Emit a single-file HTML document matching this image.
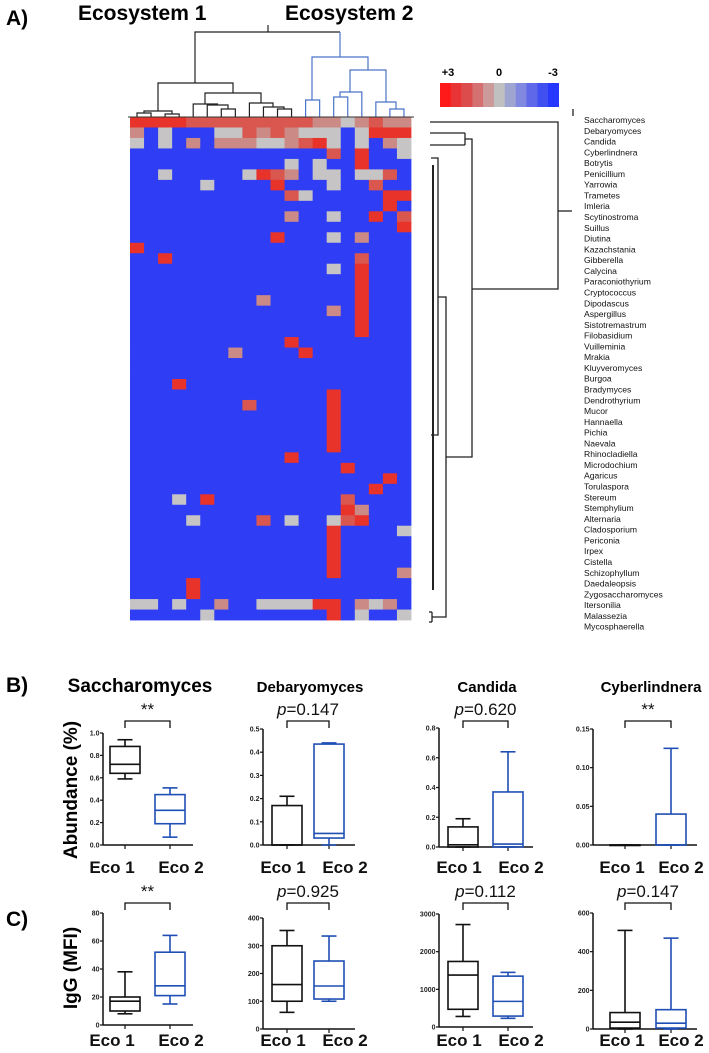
<!DOCTYPE html>
<html><head><meta charset="utf-8">
<style>
html,body{margin:0;padding:0;background:#fff;}
svg{display:block;font-family:"Liberation Sans",Arial,sans-serif;}
.rl{font-size:8.6px;fill:#111;}
.tk{font-size:7px;font-weight:bold;fill:#222;}
.eco{font-size:17px;font-weight:bold;fill:#111;}
.pv{font-size:17px;fill:#111;}
</style></head>
<body>
<svg id="fig" width="709" height="1053" viewBox="0 0 709 1053">
<text x="6" y="25" font-size="21" font-weight="bold">A)</text>
<text x="78" y="20" font-size="21" font-weight="bold">Ecosystem 1</text>
<text x="285" y="20" font-size="21" font-weight="bold">Ecosystem 2</text>
<g id="coldend"></g>
<g id="heat"></g>
<g id="key"></g>
<g id="rowdend" stroke="#222" stroke-width="1.3" fill="none">
<line x1="573" y1="109" x2="573" y2="116"/>
<polyline points="430,122 558,122 558,289 472,289"/>
<line x1="558" y1="211" x2="572" y2="211"/>
<polyline points="465,133 465,145"/><line x1="430" y1="133" x2="465" y2="133"/><line x1="430" y1="145" x2="465" y2="145"/>
<polyline points="465,139 472,139 472,457 446,457"/>
<polyline points="438,297 446,297 446,617 432,617"/>
<polyline points="431,158 438,158 438,435 431,435"/>
<line x1="432" y1="612" x2="432" y2="622"/><line x1="429" y1="612" x2="432" y2="612"/><line x1="429" y1="622" x2="432" y2="622"/>
<line x1="433" y1="165" x2="433" y2="590" stroke-width="2"/>
</g>
<g id="rowlabels"></g>
<text x="6" y="692" font-size="21" font-weight="bold">B)</text>
<text x="6" y="926" font-size="21" font-weight="bold">C)</text>
<text transform="translate(77,790) rotate(-90)" text-anchor="middle" font-size="19" font-weight="bold">Abundance (%)</text>
<text transform="translate(77,968) rotate(-90)" text-anchor="middle" font-size="19" font-weight="bold">IgG (MFI)</text>
<g id="boxes"></g>
</svg>
<script>
const NS="http://www.w3.org/2000/svg";
function mk(p,t,a){const e=document.createElementNS(NS,t);for(const k in a)e.setAttribute(k,a[k]);p.appendChild(e);return e;}

const genera=["Saccharomyces","Debaryomyces","Candida","Cyberlindnera","Botrytis","Penicillium","Yarrowia","Trametes","Imleria","Scytinostroma","Suillus","Diutina","Kazachstania","Gibberella","Calycina","Paraconiothyrium","Cryptococcus","Dipodascus","Aspergillus","Sistotremastrum","Filobasidium","Vuilleminia","Mrakia","Kluyveromyces","Burgoa","Bradymyces","Dendrothyrium","Mucor","Hannaella","Pichia","Naevala","Rhinocladiella","Microdochium","Agaricus","Torulaspora","Stereum","Stemphylium","Alternaria","Cladosporium","Periconia","Irpex","Cistella","Schizophyllum","Daedaleopsis","Zygosaccharomyces","Itersonilia","Malassezia","Mycosphaerella"];
// R=+3 r=+2 s=+1 g=0 .=-3
const heatRows=[
"RRRRrrrrrrrrrssgsrss",
"s.g...ggrsrsggg.gRRR",
"g.g.s.sssggsrRg.g.sg",
"..............r.R..g",
"...........g.g..R...",
"..g.....gRrs.gg.ggr.",
".....g....R...g..r..",
"...........rg.....RR",
"..................R.",
"...........s..g..R.r",
"...................R",
"..........R...g.s...",
"R...................",
"..R.............r...",
"..............g.R...",
"................R...",
"................R...",
".........s......R...",
"..............s.R...",
"................R...",
"................R...",
"...........R........",
".......s....R.......",
"....................",
"....................",
"...R................",
"..............R.....",
"........r.....R.....",
"..............R.....",
"..............R.....",
"..............R.....",
"..............R.....",
"...........R........",
"...............R....",
"..................R.",
".................R..",
"...g.R.........r....",
"...............Rs...",
"....g....r.g..grR...",
"..............R....g",
"..............R.....",
"..............R.....",
"..............R.....",
"..............R....s",
"....R...............",
"....R...............",
"gg.g..s..ggggRR.sgs.",
".....g........R.g..g"];
const heatColors={"R":"#e8332a","r":"#d9574f","s":"#cb8a85","g":"#c6c4c4",".":"#2f3ef5"};
const H={x0:130,y0:117,cw:14.05,rh:10.48};
const heat=document.getElementById('heat');
heatRows.forEach((row,r)=>{for(let c=0;c<20;c++){const ch=row[c]||".";
 const e=mk(heat,'rect',{x:H.x0+c*H.cw,y:H.y0+r*H.rh,width:H.cw+0.4,height:H.rh+0.4,fill:heatColors[ch]});
 
 }});
mk(heat,'line',{x1:128,y1:117,x2:414,y2:117,stroke:'#333','stroke-width':1});

const rl=document.getElementById('rowlabels');
genera.forEach((g,i)=>{const t=mk(rl,'text',{x:584,y:123+i*10.78,class:'rl'});t.textContent=g;
 
 });

const keyColors=["#ff1a1a","#e83434","#dd4c4c","#d47070","#cc9a9a","#c0c0c0","#9ea5d0","#8088e0","#6068ea","#4050f0","#2638ff"];
const key=document.getElementById('key');
keyColors.forEach((c,i)=>{const e=mk(key,'rect',{x:440+i*10.8,y:83,width:11,height:24,fill:c});
 
 });
[["+3",448],["0",499],["-3",553]].forEach(([s,x])=>{const t=mk(key,'text',{x:x,y:76,'text-anchor':'middle','font-size':11,'font-weight':'bold'});t.textContent=s;});

const cx=c=>137+14.05*c;
const links=[
[cx(0),cx(1),113,117,117,0],[cx(2),cx(3),114,117,117,0],[144,172,111,113,114,0],
[cx(6),cx(7),109,117,117,0],[cx(5),228,105,117,109,0],[cx(4),217.5,104,117,105,0],
[cx(10),cx(11),109,117,117,0],[cx(9),284,107,117,109,0],[cx(8),273,103,117,107,0],
[205,261,93,104,103,0],[158,233,83,111,93,0],
[cx(12),cx(13),100,117,117,1],[cx(14),cx(15),97,117,117,1],[340,cx(16),92,97,117,1],
[cx(18),cx(19),109,117,117,1],[cx(17),396,102,117,109,1],[350,386,70,92,102,1],[312,368,57,100,70,1],
[195,340,32,83,57,2]];
const cd=document.getElementById('coldend');
links.forEach(l=>{const col=l[5]===1?"#4a74c9":"#222";
 const p=mk(cd,'polyline',{points:`${l[0]},${l[3]} ${l[0]},${l[2]} ${l[1]},${l[2]} ${l[1]},${l[4]}`,fill:'none',stroke:col,'stroke-width':1.2});
 if(l[5]===2){p.setAttribute('stroke','#222');p.setAttribute('points',`${l[0]},${l[3]} ${l[0]},${l[2]} ${l[1]},${l[2]}`);
  mk(cd,'line',{x1:l[1],y1:l[2],x2:l[1],y2:l[4],stroke:'#4a74c9','stroke-width':1.2});}});
mk(cd,'line',{x1:268,y1:25,x2:268,y2:32,stroke:'#222','stroke-width':1.2});

// Box plots: stats [min,q1,med,q3,max]
const bTitles=["Saccharomyces","Debaryomyces","Candida","Cyberlindnera"];
const bEco1=[[0.59,0.64,0.72,0.88,0.94],[0,0,0,0.17,0.21],[0,0,0.015,0.135,0.19],[0,0,0,0,0]];
const bEco2=[[0.07,0.19,0.31,0.45,0.51],[0,0.03,0.05,0.435,0.44],[0,0,0.02,0.37,0.64],[0,0,0,0.04,0.125]];
const bTicks=[["0.0","0.2","0.4","0.6","0.8","1.0"],["0.0","0.1","0.2","0.3","0.4","0.5"],["0.0","0.2","0.4","0.6","0.8"],["0.00","0.05","0.10","0.15"]];
const bSig=["**","p=0.147","p=0.620","**"];
const cEco1=[[8,10,17,20,38],[60,100,160,300,355],[280,470,1380,1740,2720],[0,5,35,85,510]];
const cEco2=[[15,21,28,52,64],[100,108,155,245,335],[230,290,680,1350,1450],[0,5,30,100,470]];
const cTicks=[["0","20","40","60","80"],["0","100","200","300","400"],["0","1000","2000","3000"],["0","200","400","600"]];
const cSig=["**","p=0.925","p=0.112","p=0.147"];

const axX=[103,263,439,593], e1=[125,287,463,625], e2=[170,329,508,671], axEnd=[193,355,533,697];
const lab1=[112,283,459,622], lab2=[181,345,521,681];
const bTop=[733,729,728,729], bBot=[845,845,847,845];
const cTop=[913,918,914,913], cBot=[1025,1029,1027,1029];
const titleX=[140,310,487,651], titleSize=[19,15,15,15];
const boxes=document.getElementById('boxes');

function panel(i,top,bot,ticks,s1,s2,sig,bracketY,ecoY){
 const g=mk(boxes,'g',{});
 
 
 const tmax=parseFloat(ticks[ticks.length-1]);
 const y=v=>bot-(v/tmax)*(bot-top);
 mk(g,'line',{x1:axX[i],y1:top,x2:axX[i],y2:bot,stroke:'#111','stroke-width':1.5});
 mk(g,'line',{x1:axX[i],y1:bot,x2:axEnd[i],y2:bot,stroke:'#111','stroke-width':1.5});
 ticks.forEach(t=>{const v=parseFloat(t);const yy=y(v);
  mk(g,'line',{x1:axX[i]-3,y1:yy,x2:axX[i],y2:yy,stroke:'#111','stroke-width':1.2});
  const tx=mk(g,'text',{x:axX[i]-3.5,y:yy+2.5,'text-anchor':'end',class:'tk'});tx.textContent=t;
  
  });
 [e1[i],e2[i]].forEach(x=>mk(g,'line',{x1:x,y1:bot,x2:x,y2:bot+4,stroke:'#111','stroke-width':1.2}));
 [[s1,e1[i],'#111','eco-1'],[s2,e2[i],'#1f4fb4','eco-2']].forEach(([s,x,col,nm])=>{
  const bw=15;
  const b=mk(g,'g',{stroke:col,'stroke-width':1.6,fill:'none'});
  
  
  mk(b,'line',{x1:x,y1:y(s[4]),x2:x,y2:y(s[3])});
  mk(b,'line',{x1:x,y1:y(s[1]),x2:x,y2:y(s[0])});
  mk(b,'line',{x1:x-bw/2,y1:y(s[4]),x2:x+bw/2,y2:y(s[4])});
  mk(b,'line',{x1:x-bw/2,y1:y(s[0]),x2:x+bw/2,y2:y(s[0])});
  mk(b,'rect',{x:x-bw,y:y(s[3]),width:bw*2,height:Math.max(0.5,y(s[1])-y(s[3]))});
  mk(b,'line',{x1:x-bw,y1:y(s[2]),x2:x+bw,y2:y(s[2])});});
 mk(g,'polyline',{points:`${e1[i]},${bracketY+7} ${e1[i]},${bracketY} ${e2[i]},${bracketY} ${e2[i]},${bracketY+7}`,fill:'none',stroke:'#111','stroke-width':1.3});
 const mid=(e1[i]+e2[i])/2;
 const st=mk(g,'text',{x:mid,y:bracketY-6,'text-anchor':'middle',class:'pv'});
 if(sig==="**"){st.setAttribute('font-size','14');st.textContent="**";}
 else{const p=mk(st,'tspan',{'font-style':'italic'});p.textContent="p";const r=mk(st,'tspan',{});r.textContent=sig.slice(1);}
 
 
 [["Eco 1",lab1[i]],["Eco 2",lab2[i]]].forEach(([s,x])=>{const t=mk(g,'text',{x:x,y:ecoY,'text-anchor':'middle',class:'eco'});t.textContent=s;
  
  });
}
for(let i=0;i<4;i++){
 const t=mk(boxes,'text',{x:titleX[i],y:692,'text-anchor':'middle','font-size':titleSize[i],'font-weight':'bold'});t.textContent=bTitles[i];
 
 
 panel(i,bTop[i],bBot[i],bTicks[i],bEco1[i],bEco2[i],bSig[i],721,873);
 panel(i,cTop[i],cBot[i],cTicks[i],cEco1[i],cEco2[i],cSig[i],903,1046);
}
</script>
</body></html>
